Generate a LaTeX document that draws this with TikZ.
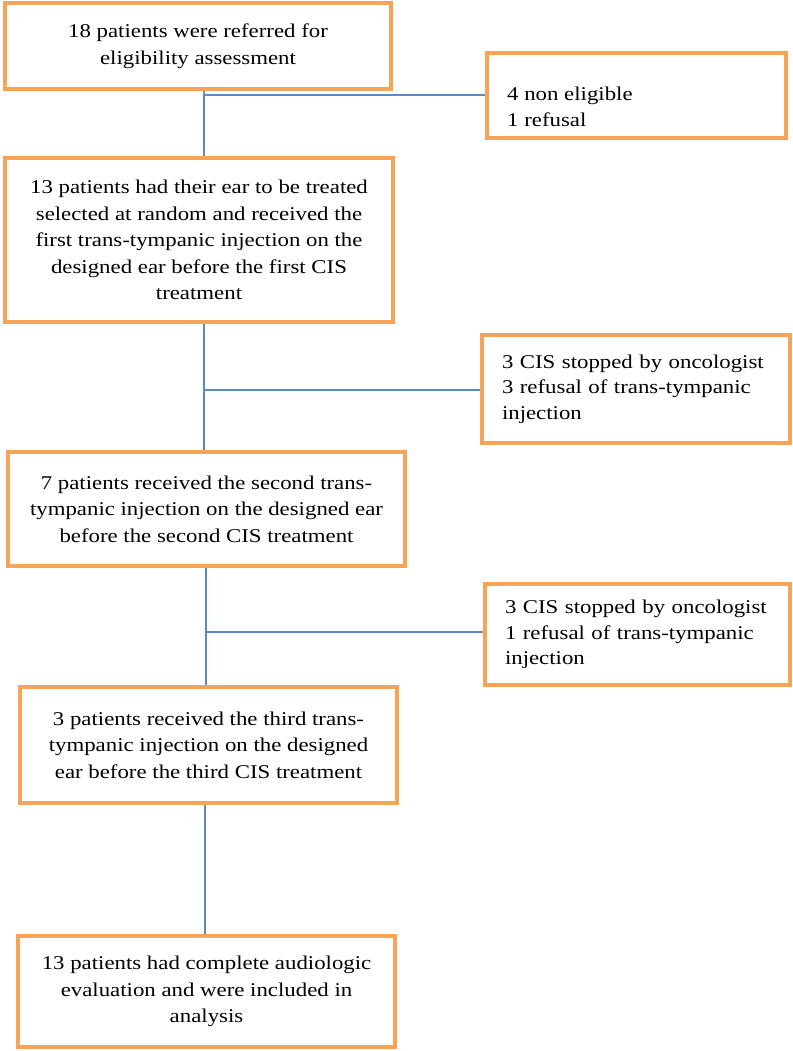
\documentclass[tikz,border=0pt]{standalone}
\usepackage{fontspec}
\setmainfont{Liberation Serif}[FakeStretch=1.17]
\definecolor{boxorange}{RGB}{247,164,86}
\definecolor{lineblue}{RGB}{92,138,196}
\tikzset{
  flowbox/.style={draw=boxorange, line width=4.6pt, fill=white, rectangle,
    inner sep=0pt, align=center, font=\fontsize{19.5}{26.5}\selectfont},
  sidebox/.style={draw=boxorange, line width=4.6pt, fill=white, rectangle,
    inner xsep=20pt, inner ysep=0pt, align=left, font=\fontsize{19.5}{25.5}\selectfont},
  sidetext/.style={inner sep=0pt, align=left, font=\fontsize{19.5}{25.5}\selectfont},
  link/.style={draw=lineblue, line width=1.6pt},
}
\begin{document}
\begin{tikzpicture}[x=1pt,y=-1pt]
\useasboundingbox (0,0) rectangle (792,1051);
% main column
\node[flowbox, minimum width=386pt, minimum height=86pt] (b1) at (198,46)
  {18 patients were referred for\\eligibility assessment};
\node[flowbox, minimum width=388pt, minimum height=164pt] (b2) at (199,240)
  {13 patients had their ear to be treated\\selected at random and received the\\first trans-tympanic injection on the\\designed ear before the first CIS\\treatment};
\node[flowbox, minimum width=397pt, minimum height=114pt] (b3) at (206.5,509)
  {7 patients received the second trans-\\tympanic injection on the designed ear\\before the second CIS treatment};
\node[flowbox, minimum width=377pt, minimum height=116pt] (b4) at (208.5,745)
  {3 patients received the third trans-\\tympanic injection on the designed\\ear before the third CIS treatment};
\node[flowbox, minimum width=377pt, minimum height=111pt] (b5) at (206.5,991.5)
  {13 patients had complete audiologic\\evaluation and were included in\\analysis};
% side boxes
\node[sidebox, minimum width=299pt, minimum height=85pt] (r1) at (636.5,95.5) {};
\node[sidetext, anchor=west] (r1t) at (507,107) {4 non eligible\\1 refusal};
\node[sidebox, text width=268pt, minimum height=108pt] (r2) at (636,389)
  {3 CIS stopped by oncologist\\3 refusal of trans-tympanic\\injection};
\node[sidebox, text width=265pt, minimum height=101pt] (r3) at (637.5,634.5)
  {3 CIS stopped by oncologist\\1 refusal of trans-tympanic\\injection};
% junctions
\coordinate (j1) at (204,95);
\coordinate (j2) at (204,390);
\coordinate (j3) at (206,632);
\coordinate (j4) at (205,870);
% connectors
\draw[link] (b1.south -| j1) -- (b2.north -| j1);
\draw[link] (j1) -- (r1.west |- j1);
\draw[link] (b2.south -| j2) -- (b3.north -| j2);
\draw[link] (j2) -- (r2.west |- j2);
\draw[link] (b3.south -| j3) -- (b4.north -| j3);
\draw[link] (j3) -- (r3.west |- j3);
\draw[link] (b4.south -| j4) -- (b5.north -| j4);
\end{tikzpicture}
\end{document}
